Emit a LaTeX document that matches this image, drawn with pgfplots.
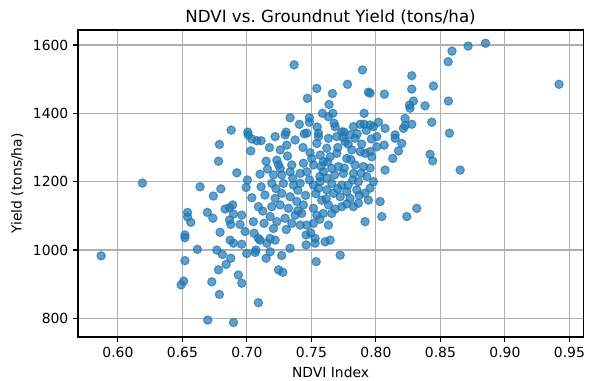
\documentclass[border=0pt]{standalone}
\usepackage{fontspec}
\setmainfont{DejaVu Sans}
\usepackage{pgfplots}
\pgfplotsset{compat=1.18}
\usepackage{pgfplotstable}
\definecolor{tabblue}{HTML}{1F77B4}
\definecolor{gridgray}{HTML}{B0B0B0}
\pgfplotstableread{
x y
0.587 983
0.619 1196
0.649 898
0.651 909
0.652 969
0.652 1036
0.652 1044
0.654 1110
0.654 1097
0.6565 1081
0.6616 1002
0.6637 1185
0.6694 1110
0.6697 795
0.6728 907
0.6736 1093
0.674 1158
0.6767 1000
0.678 942
0.678 1260
0.6787 1309
0.6787 870
0.6792 1052
0.6798 1179
0.681 987
0.6831 1120
0.6839 958
0.6865 1124
0.6865 1088
0.687 1029
0.6875 1075
0.6875 976
0.6878 1351
0.689 1132
0.6896 1105
0.6896 1020
0.6896 788
0.6922 1226
0.6934 927
0.6947 1075
0.696 1102
0.696 1017
0.696 903
0.6986 1054
0.6994 1183
0.6999 990
0.7004 1205
0.7007 1345
0.701 1337
0.703 1290
0.7038 1325
0.7038 1153
0.705 1083
0.7056 1049
0.7064 993
0.707 1000
0.7077 1320
0.7089 1127
0.7089 1034
0.7089 846
0.7102 1222
0.7102 1029
0.711 1320
0.711 1185
0.7123 1114
0.7133 1078
0.714 1161
0.7149 1260
0.7149 976
0.7154 1020
0.716 1237
0.7219 1332
0.7296 1337
0.7374 1322
0.7309 1307
0.7258 1293
0.7232 1263
0.7348 1249
0.7438 1254
0.7503 1268
0.7568 1278
0.7593 1259
0.7645 1273
0.7697 1283
0.7619 1298
0.7542 1312
0.7555 1332
0.7632 1327
0.7697 1332
0.7761 1317
0.78 1337
0.7839 1327
0.7878 1288
0.7916 1283
0.7813 1293
0.7774 1268
0.7839 1249
0.7903 1244
0.771 1244
0.7658 1239
0.7593 1229
0.7516 1249
0.7464 1229
0.7413 1224
0.7335 1229
0.7258 1239
0.7206 1220
0.727 1220
0.7193 1195
0.7283 1195
0.7361 1190
0.7413 1195
0.7516 1190
0.7568 1200
0.7619 1210
0.7658 1195
0.7736 1190
0.782 1205
0.7865 1200
0.7929 1215
0.7826 1224
0.7748 1224
0.7555 1181
0.7619 1176
0.7671 1166
0.7723 1156
0.7774 1171
0.7852 1176
0.7916 1166
0.78 1151
0.7865 1137
0.7942 1146
0.758 1146
0.7632 1132
0.7658 1107
0.7593 1107
0.7516 1122
0.7542 1102
0.7438 1132
0.7387 1142
0.7335 1156
0.727 1166
0.7219 1151
0.7193 1127
0.7258 1132
0.7322 1122
0.7374 1102
0.7425 1107
0.7296 1093
0.7232 1083
0.7206 1063
0.7348 1078
0.7413 1073
0.7464 1073
0.7516 1078
0.7632 1073
0.7736 1127
0.7826 1127
0.7916 1083
0.718 1098
0.718 1034
0.7219 1029
0.718 995
0.727 984
0.7245 942
0.7278 935
0.7335 1005
0.7459 1015
0.7459 1044
0.7529 1034
0.7529 1020
0.7606 1024
0.7645 1029
0.7723 985
0.7537 966
0.7366 1542
0.7896 1527
0.778 1485
0.7542 1473
0.7469 1444
0.7663 1458
0.7942 1462
0.7637 1426
0.7586 1400
0.7666 1400
0.7632 1390
0.7485 1387
0.7335 1387
0.7407 1368
0.7485 1374
0.7909 1400
0.7878 1368
0.7909 1368
0.7826 1361
0.7304 1345
0.7684 1361
0.7754 1345
0.7555 1342
0.7676 1371
0.7736 1346
0.7464 1342
0.8278 1510
0.8278 1471
0.8446 1480
0.8066 1456
0.8562 1436
0.8381 1422
0.8291 1436
0.826 1424
0.8265 1415
0.8226 1385
0.8433 1374
0.802 1374
0.7955 1366
0.7981 1361
0.8071 1356
0.8226 1364
0.8278 1368
0.8213 1356
0.8149 1337
0.857 1342
0.7955 1459
0.8007 1332
0.8007 1302
0.8064 1307
0.7955 1288
0.7968 1273
0.8131 1268
0.8175 1290
0.82 1312
0.8149 1327
0.8071 1234
0.7981 1200
0.7955 1181
0.8033 1142
0.8046 1098
0.824 1098
0.8317 1122
0.842 1280
0.844 1261
0.8653 1234
0.8715 1597
0.885 1605
0.942 1485
0.859 1582
0.856 1551
0.7245 1250
0.7315 1275
0.7435 1300
0.749 1285
0.7575 1245
0.7625 1258
0.7705 1300
0.7745 1330
0.7785 1310
0.7855 1340
0.7925 1350
0.7965 1325
0.789 1310
0.7805 1265
0.7755 1240
0.768 1220
0.7565 1215
0.7485 1205
0.7395 1175
0.7455 1160
0.7535 1165
0.7705 1180
0.7785 1190
0.7885 1225
0.7955 1240
0.7615 1150
0.7395 1115
0.7305 1060
0.7565 1090
0.7495 1050
0.7355 1210
0.7225 1180
0.7175 1300
0.7445 1340
0.7545 1360
0.787 1160
0.7775 1135
0.7685 1120
}\datatable
\begin{document}
\frenchspacing
\fontsize{10}{12}\selectfont
\begin{tikzpicture}
\begin{axis}[
  scale only axis,
  width=363.7pt, height=221.1pt,
  xmin=0.5691, xmax=0.9606,
  ymin=745.5, ymax=1643.9,
  xtick={0.60,0.65,0.70,0.75,0.80,0.85,0.90,0.95},
  xticklabels={0.60,0.65,0.70,0.75,0.80,0.85,0.90,0.95},
  ytick={800,1000,1200,1400,1600},
  yticklabels={800,1000,1200,1400,1600},
  grid=major,
  grid style={gridgray, line width=0.8pt},
  axis line style={line width=0.8pt},
  tick style={black, line width=0.8pt},
  major tick length=3.5pt,
  tick align=outside,
  xtick pos=bottom, ytick pos=left,
  /pgf/number format/assume math mode=true,
  ticklabel style={font=\fontsize{10}{12}\selectfont},
  title={NDVI vs.\ Groundnut Yield (tons/ha)},
  title style={font=\fontsize{12}{14}\selectfont, yshift=-5.5pt},
  xlabel={NDVI Index},
  ylabel={Yield (tons/ha)},
  label style={font=\fontsize{10}{12}\selectfont},
]
\addplot[only marks, mark=*, mark size=3pt,
  mark options={fill=tabblue, draw=tabblue, line width=0.8pt, opacity=0.7}]
  table[x=x, y=y] {\datatable};
\end{axis}
\pgfresetboundingbox
\path[use as bounding box] (-56.2pt,-31pt) rectangle (368.7pt,242.7pt);
\end{tikzpicture}
\end{document}
